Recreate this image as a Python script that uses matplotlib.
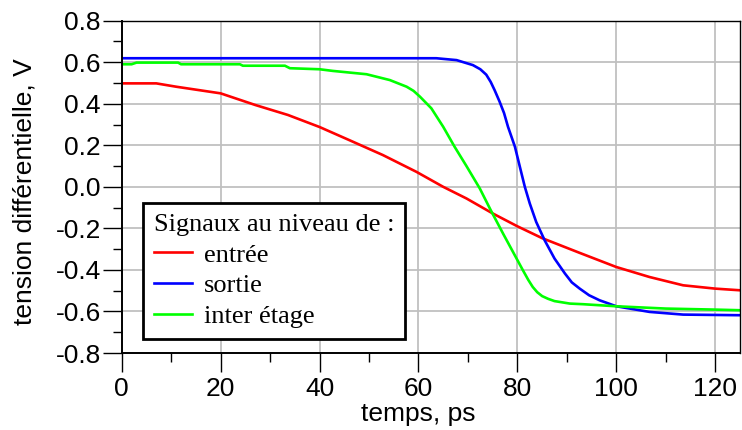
import numpy as np
import matplotlib
matplotlib.use("Agg")
import matplotlib.pyplot as plt
from matplotlib.ticker import MultipleLocator, FormatStrFormatter

plt.rcParams['font.family'] = ['Liberation Sans', 'DejaVu Sans']
plt.rcParams['axes.unicode_minus'] = False

# time axis (ps) and differential voltages (V)
t_entree = [0, 7, 11, 20, 27, 33.6, 40, 46, 52.8, 59.6, 65, 69.7, 75, 80, 85, 88,
            92.6, 100, 106.7, 113.5, 120, 125]
v_entree = [0.498, 0.498, 0.482, 0.45, 0.394, 0.346, 0.288, 0.225, 0.153, 0.072, 0.0,
            -0.056, -0.128, -0.19, -0.247, -0.275, -0.318, -0.386, -0.434, -0.474,
            -0.49, -0.498]

t_sortie = [0, 63.6, 67.7, 71, 72.5, 73.7, 74.6, 75.4, 76.4, 77.3, 78.1, 79.5, 80.5,
            81.5, 82.5, 83.8, 85.5, 87.5, 89.6, 91, 92.6, 94.5, 96.6, 100, 106.7,
            113.5, 125]
v_sortie = [0.619, 0.619, 0.61, 0.586, 0.566, 0.54, 0.505, 0.465, 0.41, 0.355, 0.289,
            0.193, 0.096, 0.0, -0.08, -0.169, -0.257, -0.345, -0.417, -0.46, -0.49,
            -0.522, -0.546, -0.575, -0.602, -0.615, -0.618]

t_inter = [0, 2, 3, 11.4, 12, 23.9, 24.5, 33, 34, 40, 42.7, 49.5, 54.2, 57.6, 59,
           60.3, 62.6, 65, 67.3, 69.7, 72.4, 74.6, 77.1, 79.1, 81.1, 82.2, 83.1, 84,
           85, 86.2, 87.5, 90.6, 93.3, 100, 110, 120, 125]
v_inter = [0.59, 0.59, 0.598, 0.598, 0.59, 0.59, 0.583, 0.583, 0.571, 0.566, 0.558,
           0.542, 0.514, 0.482, 0.462, 0.434, 0.378, 0.289, 0.193, 0.1, -0.008, -0.112,
           -0.225, -0.313, -0.401, -0.448, -0.482, -0.507, -0.526, -0.539, -0.55,
           -0.562, -0.565, -0.575, -0.586, -0.591, -0.594]

x_ticks = [0, 20, 40, 60, 80, 100, 120]
y_ticks = [-0.8, -0.6, -0.4, -0.2, 0.0, 0.2, 0.4, 0.6, 0.8]
labels = ["entrée", "sortie", "inter étage"]

fig = plt.figure(figsize=(7.42, 4.30), dpi=100)
ax = fig.add_axes([0.164, 0.179, 0.8333, 0.773])

ax.plot(t_entree, v_entree, color="#ff0000", lw=1.9, label=labels[0])
ax.plot(t_sortie, v_sortie, color="#0000ff", lw=1.9, label=labels[1])
ax.plot(t_inter, v_inter, color="#00ff00", lw=1.9, label=labels[2])

ax.set_xlim(0, 125)
ax.set_ylim(-0.8, 0.8)
ax.set_xticks(x_ticks)
ax.set_yticks(y_ticks)
ax.yaxis.set_major_formatter(FormatStrFormatter('%.1f'))
ax.xaxis.set_minor_locator(MultipleLocator(10))
ax.yaxis.set_minor_locator(MultipleLocator(0.1))
ax.tick_params(which='major', direction='out', length=14, width=1, labelsize=19)
ax.tick_params(axis='y', which='major', pad=1)
ax.tick_params(axis='x', which='major', pad=3)
ax.tick_params(which='minor', direction='out', length=6.5, width=1)
ax.grid(True, which='major', color='#c0c0c0', lw=1.3)
ax.set_axisbelow(True)

for s in ['left', 'bottom']:
    ax.spines[s].set_linewidth(1.4)
for s in ['top', 'right']:
    ax.spines[s].set_linewidth(1.0)

ax.set_xlabel("temps, ps", fontsize=19)
ax.xaxis.set_label_coords(60 / 125, -0.147)
ax.set_ylabel("tension différentielle, V", fontsize=19)
ax.yaxis.set_label_coords(-0.137, 0.485)

serif = {'family': 'Liberation Serif', 'size': 19}
leg = ax.legend(loc='upper left', bbox_to_anchor=(0.0344, 0.451), borderaxespad=0,
                title="Signaux au niveau de :", prop=serif, title_fontproperties=serif,
                alignment='left', fancybox=False, framealpha=1, edgecolor='black',
                handlelength=1.45, handletextpad=0.45, labelspacing=0.28,
                borderpad=0.4)
leg.get_frame().set_linewidth(2)

fig.savefig("out.png", dpi=100)
